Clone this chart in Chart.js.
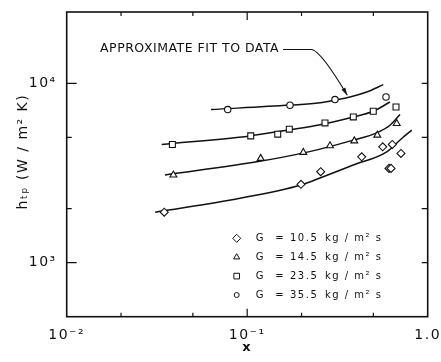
<!DOCTYPE html>
<html>
<head>
<meta charset="utf-8">
<script src="https://cdn.jsdelivr.net/npm/chart.js@4/dist/chart.umd.min.js"></script>
<style>
    html, body { margin: 0; padding: 0; background: #fff; }
    #htpChart { display: block; }
</style>
</head>
<body>
<canvas id="htpChart" width="441" height="362"></canvas>
<script>
// mass flux values for the four series
const gValues = [10.5, 14.5, 23.5, 35.5];

// measured points, G = 10.5 (diamonds)
const x105 = [0.0347, 0.1986, 0.2554, 0.4308, 0.5633, 0.6105, 0.6263, 0.6366, 0.7112];
const h105 = [1913, 2736, 3216, 3895, 4428, 3357, 3357, 4564, 4069];
// G = 14.5 (triangles)
const x145 = [0.0390, 0.1188, 0.2046, 0.2875, 0.392, 0.5258, 0.6734];
const h145 = [3083, 3817, 4121, 4486, 4780, 5142, 5972];
// G = 23.5 (squares)
const x235 = [0.0385, 0.1046, 0.1476, 0.1711, 0.2698, 0.3871, 0.4995, 0.6674];
const h235 = [4564, 5095, 5209, 5552, 6018, 6500, 6989, 7386];
// G = 35.5 (circles)
const x355 = [0.078, 0.1726, 0.3064, 0.5875];
const h355 = [7145, 7551, 8117, 8394];

// approximate fit curves
const fitX105 = [0.0309, 0.0912, 0.1986, 0.2531, 0.3871, 0.5928, 0.7178, 0.8152];
const fitH105 = [1913, 2288, 2713, 2966, 3503, 4152, 4930, 5482];
const fitX145 = [0.0350, 0.1193, 0.2030, 0.2531, 0.3871, 0.5218, 0.6181, 0.7024];
const fitH145 = [3083, 3687, 4084, 4299, 4824, 5300, 5843, 6700];
const fitX235 = [0.0336, 0.1036, 0.1726, 0.2531, 0.3871, 0.4995, 0.6181];
const fitH235 = [4564, 5095, 5517, 5881, 6500, 6989, 7873];
const fitX355 = [0.0630, 0.1726, 0.2531, 0.3064, 0.3711, 0.4592, 0.5675];
const fitH355 = [7145, 7566, 7794, 8067, 8393, 8948, 9835];

// axes
const xLabelValues = [0.01, 0.1, 1];
const xLabelTexts = ["10\u207B\u00B2", "10\u207B\u00B9", "1.0"];
const yLabelValues = [1000, 10000];
const yLabelTexts = ["10\u00B3", "10\u2074"];
const xTickMarks = [0.02, 0.05, 0.1, 0.2, 0.5];
const yTickMarks = [1000, 2000, 5000, 10000];

// annotation
const noteText = "APPROXIMATE FIT TO DATA";
const noteAt = [0.0153, 15640];
const noteLeader = [[0.158, 15450], [0.2286, 15450], [0.2597, 14860], [0.3585, 8577]];

const markerStyles = ["rectRot", "triangle", "rect", "circle"];
const markerRadius = [4, 4, 4.2, 3.2];
const legendRadius = [4, 3.5, 4, 2.5];
const fontFamily = "'DejaVu Sans', sans-serif";

function pairs(xs, ys) {
    return xs.map((x, i) => ({x: x, y: ys[i]}));
}

function isDecade(v) {
    const l = Math.log10(v);
    return Math.abs(l - Math.round(l)) < 1e-9;
}

// the lettering of the original is widely spaced
const spacingPlugin = {
    id: "spacing",
    beforeDraw(chart) {
        chart.ctx.letterSpacing = "1.5px";
    },
    afterDraw(chart) {
        chart.ctx.letterSpacing = "0px";
    }
};

const framePlugin = {
    id: "frame",
    afterDatasetsDraw(chart) {
        const {ctx, chartArea: a, scales: {x, y}} = chart;
        ctx.save();
        ctx.strokeStyle = "#111";
        ctx.lineWidth = 1.6;
        ctx.strokeRect(a.left, a.top, a.right - a.left, a.bottom - a.top);
        ctx.lineWidth = 1.2;
        ctx.beginPath();
        for (const v of xTickMarks) {
            const px = x.getPixelForValue(v);
            const len = isDecade(v) ? 8 : 4;
            ctx.moveTo(px, a.bottom);
            ctx.lineTo(px, a.bottom - len);
            ctx.moveTo(px, a.top);
            ctx.lineTo(px, a.top + len);
        }
        for (const v of yTickMarks) {
            const py = y.getPixelForValue(v);
            ctx.moveTo(a.left, py);
            ctx.lineTo(a.left + (isDecade(v) ? 10 : 5), py);
            ctx.moveTo(a.right, py);
            ctx.lineTo(a.right - 6, py);
        }
        ctx.stroke();
        ctx.restore();
    }
};

const legendPlugin = {
    id: "gLegend",
    afterDatasetsDraw(chart) {
        const {ctx, chartArea: a} = chart;
        ctx.save();
        ctx.font = "10px " + fontFamily;
        ctx.letterSpacing = "1.5px";
        ctx.textBaseline = "middle";
        gValues.forEach((g, i) => {
            const yy = a.bottom - 78.4 + i * 18.9;
            const mx = a.left + 170;
            ctx.fillStyle = "#fff";
            ctx.strokeStyle = "#111";
            ctx.lineWidth = 1;
            Chart.helpers.drawPoint(ctx, {pointStyle: markerStyles[i], radius: legendRadius[i], rotation: 0, borderWidth: 1}, mx, yy);
            ctx.fillStyle = "#111";
            ctx.fillText("G", a.left + 189, yy);
            ctx.fillText("=", a.left + 208.5, yy);
            ctx.fillText(g.toFixed(1), a.left + 223.3, yy);
            ctx.fillText("kg / m\u00B2 s", a.left + 258.3, yy);
        });
        ctx.restore();
    }
};

const notePlugin = {
    id: "note",
    afterDatasetsDraw(chart) {
        const {ctx, scales: {x, y}} = chart;
        const px = v => x.getPixelForValue(v);
        const py = v => y.getPixelForValue(v);
        ctx.save();
        ctx.fillStyle = "#111";
        ctx.strokeStyle = "#111";
        ctx.font = "12.5px " + fontFamily;
        ctx.letterSpacing = "0.5px";
        ctx.textBaseline = "middle";
        ctx.fillText(noteText, px(noteAt[0]), py(noteAt[1]));

        const p = noteLeader.map(d => [px(d[0]), py(d[1])]);
        ctx.lineWidth = 1.1;
        ctx.beginPath();
        ctx.moveTo(p[0][0], p[0][1]);
        ctx.lineTo(p[1][0], p[1][1]);
        ctx.quadraticCurveTo(p[2][0], p[2][1], p[3][0], p[3][1]);
        ctx.stroke();

        const ang = Math.atan2(p[3][1] - p[2][1], p[3][0] - p[2][0]);
        const len = 8;
        ctx.beginPath();
        ctx.moveTo(p[3][0], p[3][1]);
        ctx.lineTo(p[3][0] - len * Math.cos(ang - 0.28), p[3][1] - len * Math.sin(ang - 0.28));
        ctx.lineTo(p[3][0] - len * Math.cos(ang + 0.28), p[3][1] - len * Math.sin(ang + 0.28));
        ctx.closePath();
        ctx.fill();
        ctx.restore();
    }
};

function pointSet(label, xs, ys, i) {
    return {
        label: label,
        data: pairs(xs, ys),
        showLine: false,
        pointStyle: markerStyles[i],
        pointRadius: markerRadius[i],
        pointBackgroundColor: "#fff",
        pointBorderColor: "#111",
        pointBorderWidth: 1.1
    };
}

function fitSet(label, xs, ys) {
    return {
        label: label,
        data: pairs(xs, ys),
        showLine: true,
        pointRadius: 0,
        borderColor: "#111",
        borderWidth: 1.5,
        cubicInterpolationMode: "monotone"
    };
}

const data = {
    datasets: [
        pointSet("G = 10.5", x105, h105, 0),
        pointSet("G = 14.5", x145, h145, 1),
        pointSet("G = 23.5", x235, h235, 2),
        pointSet("G = 35.5", x355, h355, 3),
        fitSet("fit 10.5", fitX105, fitH105),
        fitSet("fit 14.5", fitX145, fitH145),
        fitSet("fit 23.5", fitX235, fitH235),
        fitSet("fit 35.5", fitX355, fitH355)
    ]
};

const config = {
    type: "scatter",
    data: data,
    options: {
        responsive: false,
        animation: false,
        layout: {
            padding: {top: 12, right: 13.3, left: 0, bottom: 0}
        },
        plugins: {
            legend: {display: false},
            tooltip: {enabled: false}
        },
        scales: {
            x: {
                type: "logarithmic",
                min: 0.01,
                max: 1,
                afterBuildTicks: function (scale) {
                    scale.ticks = xLabelValues.map(v => ({value: v}));
                },
                afterFit: function (scale) {
                    scale.height = 45.3;
                    scale.paddingLeft = 0;
                    scale.paddingRight = 0;
                },
                grid: {display: false},
                border: {display: false},
                ticks: {
                    autoSkip: false,
                    maxRotation: 0,
                    minRotation: 0,
                    padding: 2,
                    color: "#111",
                    font: {family: fontFamily, size: 14},
                    callback: function (value, index) {
                        return xLabelTexts[index];
                    }
                },
                title: {
                    display: true,
                    text: "x",
                    color: "#111",
                    font: {family: fontFamily, size: 13, weight: "bold"},
                    padding: {top: 0, bottom: 7}
                }
            },
            y: {
                type: "logarithmic",
                min: 500,
                max: 25000,
                afterBuildTicks: function (scale) {
                    scale.ticks = yLabelValues.map(v => ({value: v}));
                },
                afterFit: function (scale) {
                    scale.width = 66.7;
                },
                grid: {display: false},
                border: {display: false},
                ticks: {
                    autoSkip: false,
                    padding: 2,
                    color: "#111",
                    font: {family: fontFamily, size: 14},
                    callback: function (value, index) {
                        return yLabelTexts[index];
                    }
                },
                title: {
                    display: true,
                    // leading spaces lift the title a little, as in the original
                    text: "\u2002\u2002\u2002h\u209C\u209A (W / m\u00B2 K)",
                    color: "#111",
                    font: {family: fontFamily, size: 14},
                    padding: {top: 15, bottom: 0}
                }
            }
        }
    },
    plugins: [spacingPlugin, framePlugin, legendPlugin, notePlugin]
};

const htpChart = new Chart(document.getElementById("htpChart").getContext("2d"), config);
</script>
</body>
</html>
